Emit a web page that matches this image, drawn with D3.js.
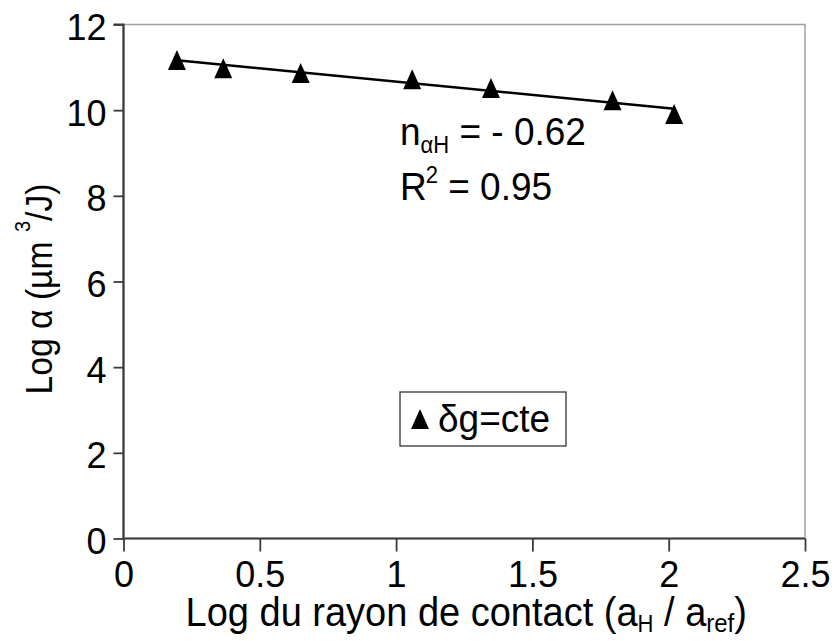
<!DOCTYPE html>
<html><head><meta charset="utf-8">
<script src="https://cdn.jsdelivr.net/npm/d3@7"></script>
<style>
html,body{margin:0;padding:0;background:#fff;}
svg{display:block;font-family:"Liberation Sans",Arial,sans-serif;}
</style></head>
<body>
<svg id="chart" width="838" height="641"></svg>
<script>
// ---- data ----
const logRadius = [0.196, 0.366, 0.650, 1.059, 1.348, 1.794, 2.020];
const logAlpha  = [11.17, 10.98, 10.87, 10.72, 10.52, 10.23, 9.91];
const xTickValues = [0, 0.5, 1, 1.5, 2, 2.5];
const yTickValues = [0, 2, 4, 6, 8, 10, 12];
const seriesName = "δg=cte";
const slopeText = "- 0.62";
const r2Text = "0.95";

// ---- layout ----
const svg = d3.select("#chart");
const L = 123.5, R = 805, T = 24.5, B = 538.5;
const x = d3.scaleLinear().domain([0, 2.5]).range([L, R]);
const y = d3.scaleLinear().domain([0, 12]).range([B, T]);
const FS = 36, SY = 1.05;

// plot frame (top/right light)
svg.append("rect").attr("x", L).attr("y", T).attr("width", R - L).attr("height", B - T)
  .attr("fill", "#fff").attr("stroke", "#a0a0a0").attr("stroke-width", 1.5);

// axes
const xAxis = d3.axisBottom(x).tickValues(xTickValues).tickSize(13).tickFormat(d => String(d));
const yAxis = d3.axisLeft(y).tickValues(yTickValues).tickSize(10).tickFormat(d => String(d));

const gx = svg.append("g").attr("transform", `translate(0,${B})`).call(xAxis);
const gy = svg.append("g").attr("transform", `translate(${L},0)`).call(yAxis);
[gx, gy].forEach(g => {
  g.select(".domain").attr("stroke", "#3a3a3a").attr("stroke-width", 2.2);
  g.selectAll(".tick line").attr("stroke", "#3a3a3a").attr("stroke-width", 1.8);
  g.selectAll(".tick text").attr("fill", "#000").attr("font-size", FS)
    .attr("font-family", '"Liberation Sans",Arial,sans-serif')
    .attr("x", 0).attr("y", 0).attr("dy", null);
});
gy.select(".domain").attr("d", `M-10,${T}H0V${B}`);
gx.select(".domain").attr("d", `M${L},0H${R}`);
gx.selectAll(".tick text").attr("transform", `translate(0,48) scale(1,${SY})`);
gy.selectAll(".tick text").attr("transform", `translate(-17,15) scale(1,${SY})`);

// trend line (least squares)
const mx = d3.mean(logRadius), my = d3.mean(logAlpha);
const sxy = d3.sum(logRadius.map((v, i) => (v - mx) * (logAlpha[i] - my)));
const sxx = d3.sum(logRadius.map(v => (v - mx) * (v - mx)));
const slope = sxy / sxx, icpt = my - slope * mx;
const xExt = d3.extent(logRadius);
svg.append("path")
  .datum(xExt.map(v => [v, icpt + slope * v]))
  .attr("d", d3.line().x(d => x(d[0])).y(d => y(d[1])))
  .attr("stroke", "#000").attr("stroke-width", 2.6).attr("fill", "none");

// markers
const tri = (cx, cy, w, h) => `M${cx},${cy - h / 2}L${cx + w / 2},${cy + h / 2}L${cx - w / 2},${cy + h / 2}Z`;
svg.append("g").selectAll("path").data(logRadius).join("path")
  .attr("d", (d, i) => tri(x(d), y(logAlpha[i]), 18, 20))
  .attr("fill", "#000");

// annotation
const t1 = svg.append("text").attr("transform", `translate(400,145) scale(1,${SY})`).attr("font-size", 37);
t1.append("tspan").text("n");
t1.append("tspan").attr("font-size", 22).attr("dy", 8).text("αH");
t1.append("tspan").attr("dy", -8).text(" = " + slopeText);
const t2 = svg.append("text").attr("transform", `translate(400,200) scale(1,${SY})`).attr("font-size", 37);
t2.append("tspan").text("R");
t2.append("tspan").attr("font-size", 22).attr("dy", -16).attr("dx", -1).text("2");
t2.append("tspan").attr("dy", 16).text(" = " + r2Text);

// legend
svg.append("rect").attr("x", 400).attr("y", 392).attr("width", 166).attr("height", 54)
  .attr("fill", "#fff").attr("stroke", "#333").attr("stroke-width", 1.3);
svg.append("path").attr("d", tri(420, 419, 18, 20)).attr("fill", "#000");
svg.append("text").attr("transform", `translate(438,432) scale(1,${SY})`).attr("font-size", 37).text(seriesName);

// axis titles
const xt = svg.append("text").attr("transform", `translate(${(L + R) / 2 + 2},626) scale(1,${SY})`)
  .attr("text-anchor", "middle").attr("font-size", 38);
xt.append("tspan").text("Log du rayon de contact (a");
xt.append("tspan").attr("font-size", 22).attr("dy", 6).text("H");
xt.append("tspan").attr("dy", -6).text(" / a");
xt.append("tspan").attr("font-size", 24).attr("dy", 6).text("ref");
xt.append("tspan").attr("dy", -6).text(")");

const yt = svg.append("text").attr("transform", `translate(52,289) rotate(-90) scale(0.91,1)`)
  .attr("text-anchor", "middle").attr("font-size", 37);
yt.append("tspan").text("Log α (µm ");
yt.append("tspan").attr("font-size", 22).attr("dy", -22).text("3");
yt.append("tspan").attr("dy", 22).text("/J)");
</script>
</body></html>
